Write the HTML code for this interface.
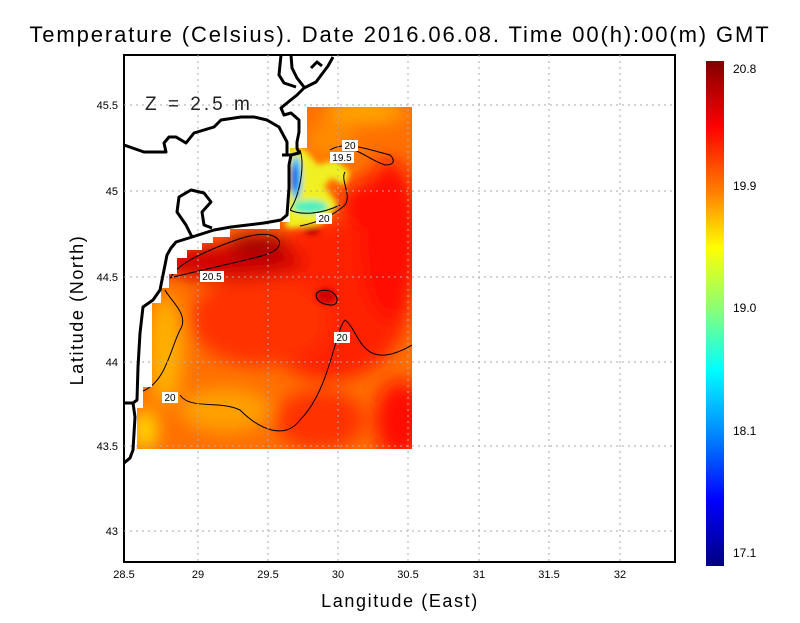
<!DOCTYPE html>
<html><head><meta charset="utf-8"><style>
body{margin:0;background:#fff;}
svg text{font-family:"Liberation Sans",sans-serif;}
</style></head><body>
<svg width="800" height="618" viewBox="0 0 800 618" xmlns="http://www.w3.org/2000/svg">
<defs>
<linearGradient id="cb" x1="0" y1="0" x2="0" y2="1">
<stop offset="0" stop-color="#800000"/>
<stop offset="0.13" stop-color="#ff0000"/>
<stop offset="0.26" stop-color="#ff8000"/>
<stop offset="0.37" stop-color="#ffff00"/>
<stop offset="0.5" stop-color="#80ff80"/>
<stop offset="0.61" stop-color="#00ffff"/>
<stop offset="0.73" stop-color="#0090ff"/>
<stop offset="0.87" stop-color="#0000ff"/>
<stop offset="1" stop-color="#000080"/>
</linearGradient>
<clipPath id="dc"><path d="M307,107 L412,107 L412,449 L137,449 L137,408 L143,408 L143,387 L152,387 L152,303 L161,303 L161,288 L169,288 L169,274 L177,274 L177,258 L187,258 L187,250 L202,250 L202,243 L213,243 L213,237 L230,237 L230,229 L280,229 L280,222 L290,222 L290,148 L307,148 Z"/></clipPath>
<filter id="bl" x="-50%" y="-50%" width="200%" height="200%"><feGaussianBlur stdDeviation="9"/></filter>
<filter id="bl2" x="-50%" y="-50%" width="200%" height="200%"><feGaussianBlur stdDeviation="3"/></filter>
</defs>
<text x="400" y="42" font-size="22" letter-spacing="1.9" text-anchor="middle">Temperature (Celsius). Date 2016.06.08. Time 00(h):00(m)  GMT</text>
<g clip-path="url(#dc)">
<rect x="130" y="100" width="290" height="360" fill="#ff7000"/>
<g filter="url(#bl)">
<ellipse cx="330" cy="300" rx="80" ry="80" fill="#ff2000"/>
<ellipse cx="260" cy="320" rx="70" ry="45" fill="#ff3000"/>
<ellipse cx="390" cy="240" rx="30" ry="80" fill="#ff1000"/>
<ellipse cx="400" cy="420" rx="25" ry="40" fill="#ff0800"/>
<ellipse cx="320" cy="420" rx="45" ry="30" fill="#ff3000"/>
<ellipse cx="230" cy="262" rx="75" ry="18" fill="#d00000"/>
<ellipse cx="258" cy="245" rx="30" ry="12" fill="#a00000"/>
<ellipse cx="165" cy="350" rx="18" ry="55" fill="#ffb000"/>
<ellipse cx="225" cy="410" rx="45" ry="22" fill="#ffa000"/>
<ellipse cx="145" cy="430" rx="12" ry="20" fill="#ffe000"/>
<ellipse cx="365" cy="112" rx="40" ry="10" fill="#ffb000"/>
<ellipse cx="330" cy="140" rx="25" ry="18" fill="#ff8c00"/>
<ellipse cx="370" cy="205" rx="30" ry="25" fill="#ff1000"/>
</g>
<g filter="url(#bl2)">
<path d="M288,145 L305,150 L318,165 L335,160 L350,172 L345,186 L332,178 L324,186 L338,205 L322,224 L296,228 L286,228 Z" fill="#f0f020"/>
<ellipse cx="310" cy="207" rx="18" ry="7" fill="#50f0c0"/>
<ellipse cx="296" cy="178" rx="6" ry="22" fill="#20c0ff"/>
<ellipse cx="294" cy="178" rx="3" ry="14" fill="#0030e0"/>
<ellipse cx="312" cy="231" rx="8" ry="4" fill="#c00000"/>
<ellipse cx="326" cy="296" rx="10" ry="8" fill="#d00000"/>
</g>
<g fill="none" stroke="#000" stroke-width="1">
<path d="M170,278 C200,270 240,262 265,255 C285,248 282,238 270,235 C255,232 235,240 215,248 C200,255 180,262 170,278"/>
<path d="M318,300 C312,292 322,288 332,292 C340,298 338,306 330,305 C322,304 320,302 318,300Z"/>
<path d="M140,392 C165,385 170,350 180,330 C190,315 170,300 165,290"/>
<path d="M412,345 C360,375 360,330 345,320 C335,330 330,390 300,420 C285,440 260,430 240,410 C220,400 190,410 180,395"/>
<path d="M300,226 C320,222 335,214 345,205 C352,195 340,180 345,172"/>
<path d="M300,150 C305,165 300,195 290,210 C300,215 320,215 340,205"/>
<path d="M330,150 C345,140 370,150 390,155 C395,160 395,165 385,165 C370,160 360,150 345,147"/>
</g>
</g>
<rect x="124" y="55" width="551" height="507" fill="none" stroke="#000" stroke-width="2"/>
<g stroke="#aaa" stroke-width="1" stroke-dasharray="2,4">
<line x1="198" y1="55" x2="198" y2="562"/><line x1="268" y1="55" x2="268" y2="562"/><line x1="338" y1="55" x2="338" y2="562"/><line x1="408" y1="55" x2="408" y2="562"/><line x1="479" y1="55" x2="479" y2="562"/><line x1="549" y1="55" x2="549" y2="562"/><line x1="620" y1="55" x2="620" y2="562"/>
<line x1="124" y1="105" x2="675" y2="105"/><line x1="124" y1="191" x2="675" y2="191"/><line x1="124" y1="277" x2="675" y2="277"/><line x1="124" y1="362" x2="675" y2="362"/><line x1="124" y1="446" x2="675" y2="446"/><line x1="124" y1="531" x2="675" y2="531"/>
</g>
<g fill="none" stroke="#000" stroke-width="3" stroke-linejoin="round">
<path d="M124,145 L144,152 L166,152 L164,143 L169,137 L176,137 L186,143 L194,133 L214,127 L221,120 L241,117 L254,117 L267,120 L279,127 L287,142 L287,155 L282,155"/>
<path d="M282,155 L291,155 L299,153 L297,148 L297,142 L299,132 L299,120 L291,113 L284,115 L281,108 L287,103 L297,95 L304,88 L316,82 L322,74 L328,66 L333,57"/>
<path d="M291,155 L289,165 L289,188 L287,215 L281,220 L264,223 L231,227 L214,230 L192,237 L176,242 L171,248 L167,255 L165,265 L160,290 L153,300 L143,307 L140,333 L138,367 L137,400 L133,403 L123,403"/>
<path d="M133,403 L135,417 L133,450 L130,458 L124,463"/>
<path d="M281,55 L279,75 L284,83 L296,87"/>
<path d="M291,55 L292,68 L297,78 L304,87"/>
<path d="M192,237 L186,225 L177,212 L179,197 L191,190 L204,193 L211,202 L202,212 L204,225 L212,228"/>
<path d="M311,68 L317,62 L322,66"/>
</g>
<g font-size="10" text-anchor="middle">
<rect x="342" y="140" width="16" height="11" fill="#fff"/><text x="350" y="149">20</text>
<rect x="330" y="152" width="24" height="11" fill="#fff"/><text x="342" y="161">19.5</text>
<rect x="316" y="213" width="16" height="11" fill="#fff"/><text x="324" y="222">20</text>
<rect x="200" y="271" width="24" height="11" fill="#fff"/><text x="212" y="280">20.5</text>
<rect x="334" y="332" width="16" height="11" fill="#fff"/><text x="342" y="341">20</text>
<rect x="162" y="392" width="16" height="11" fill="#fff"/><text x="170" y="401">20</text>
</g>
<text x="145" y="110" font-size="19" letter-spacing="3" fill="#222">Z = 2.5 m</text>
<g font-size="11" text-anchor="middle">
<text x="124" y="578">28.5</text><text x="198" y="578">29</text><text x="268" y="578">29.5</text><text x="338" y="578">30</text><text x="408" y="578">30.5</text><text x="479" y="578">31</text><text x="549" y="578">31.5</text><text x="620" y="578">32</text>
</g>
<g font-size="11" text-anchor="end">
<text x="118" y="109">45.5</text><text x="118" y="195">45</text><text x="118" y="281">44.5</text><text x="118" y="366">44</text><text x="118" y="450">43.5</text><text x="118" y="535">43</text>
</g>
<text x="400" y="607" font-size="18" letter-spacing="1.6" text-anchor="middle">Langitude (East)</text>
<text transform="translate(83,310) rotate(-90)" font-size="18" letter-spacing="1.6" text-anchor="middle">Latitude (North)</text>
<rect x="706" y="61" width="18" height="505" fill="url(#cb)"/>
<g font-size="12">
<text x="733" y="73">20.8</text><text x="733" y="190">19.9</text><text x="733" y="312">19.0</text><text x="733" y="435">18.1</text><text x="733" y="557">17.1</text>
</g>
</svg>
</body></html>
